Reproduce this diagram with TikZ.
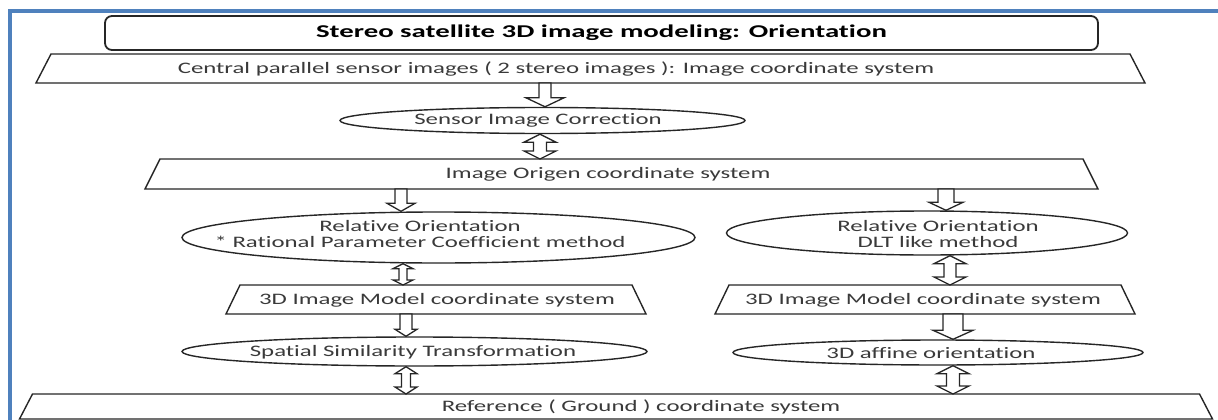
\documentclass[tikz,border=0pt]{standalone}
\usepackage{fontspec}
\setmainfont[FakeStretch=1.55, Ligatures={NoCommon}, BoldFeatures={FakeStretch=1.6}]{Carlito}
\usetikzlibrary{shapes.geometric,calc}
\definecolor{frameblue}{HTML}{4F81BD}
\definecolor{txtgray}{HTML}{3A3A3A}
% down block arrow: start, end, half shaft, half head, head length
\newcommand\dnarrow[5]{%
  \draw[blk] let \p1=(#1), \p2=(#2) in
    ({\x1-#3pt},\y1) -- ({\x1+#3pt},\y1) -- ({\x1+#3pt},{\y2+#5pt}) -- ({\x1+#4pt},{\y2+#5pt})
    -- (\x1,\y2) -- ({\x1-#4pt},{\y2+#5pt}) -- ({\x1-#3pt},{\y2+#5pt}) -- cycle;}
% double block arrow: start, end, half shaft, half head, head length
\newcommand\dblarrow[5]{%
  \draw[blk] let \p1=(#1), \p2=(#2) in
    (\x1,\y1) -- ({\x1+#4pt},{\y1-#5pt}) -- ({\x1+#3pt},{\y1-#5pt}) -- ({\x1+#3pt},{\y2+#5pt})
    -- ({\x1+#4pt},{\y2+#5pt}) -- (\x1,\y2) -- ({\x1-#4pt},{\y2+#5pt}) -- ({\x1-#3pt},{\y2+#5pt})
    -- ({\x1-#3pt},{\y1-#5pt}) -- ({\x1-#4pt},{\y1-#5pt}) -- cycle;}
% trapezoid: name, center, bottom width, height, side offset
\newcommand\trapz[5]{%
  \node[minimum width=#3, minimum height=#4, inner sep=0pt, outer sep=0pt] (#1) at #2 {};
  \draw[shpline] (#1.south west) -- ([xshift=#5]#1.north west) -- ([xshift=-#5]#1.north east)
    -- (#1.south east) -- cycle;}
\begin{document}
\begin{tikzpicture}[x=1pt,y=-1pt,
  shpline/.style={draw=black!85, line width=1.4pt, fill=white, line join=miter},
  shp/.style={shpline, inner sep=0pt},
  ell/.style={shp, ellipse},
  lbl/.style={text=txtgray, font=\fontsize{16}{16.5}\selectfont, inner sep=0pt, align=center},
  blk/.style={draw=black!85, line width=1.3pt, fill=white, line join=miter}]
\useasboundingbox (0,0) rectangle (1218,420);
% frame
\draw[frameblue, line width=4pt] (9.5,425) -- (9.5,11) -- (1225,11);
% title
\node[shp, rectangle, rounded corners=7pt, line width=1.8pt, minimum width=993pt, minimum height=34pt,
      font=\fontsize{18}{19}\selectfont\bfseries, text=black] (title) at (601.5,33)
      {Stereo satellite 3D image modeling: Orientation};
% shapes
\trapz{T1}{(590.5,68.5)}{1109pt}{29pt}{15pt}
\node[ell, minimum width=405pt, minimum height=26pt] (E1) at (542.5,120.5) {};
\trapz{T2}{(621.5,174)}{953pt}{30pt}{15pt}
\node[ell, minimum width=513pt, minimum height=51pt] (E2L) at (438.5,237.5) {};
\node[ell, minimum width=401pt, minimum height=44pt] (E2R) at (927,233) {};
\trapz{T3L}{(436,299.5)}{420pt}{29pt}{14pt}
\trapz{T3R}{(925,299.5)}{420pt}{29pt}{14pt}
\node[ell, minimum width=465pt, minimum height=29pt] (E3L) at (414.5,351.5) {};
\node[ell, minimum width=410pt, minimum height=25pt] (E3R) at (938,352.5) {};
\trapz{T4}{(616,406.5)}{1193pt}{25pt}{13pt}
% texts
\node[lbl] (t1) at (556,69) {Central parallel sensor images ( 2 stereo images ): Image coordinate system};
\node[lbl] (e1) at (538,120.5) {Sensor Image Correction};
\node[lbl] (t2) at (608,174) {Image Origen coordinate system};
\node[lbl] (e2l) at (420,234) {Relative Orientation\\* Rational Parameter Coefficient method};
\node[lbl] (e2r) at (938,234) {Relative Orientation\\DLT like method};
\node[lbl] (t3l) at (437,300) {3D Image Model coordinate system};
\node[lbl] (t3r) at (923,300) {3D Image Model coordinate system};
\node[lbl] (e3l) at (413,352) {Spatial Similarity Transformation};
\node[lbl] (e3r) at (931,353) {3D affine orientation};
\node[lbl] (t4) at (641,407) {Reference ( Ground ) coordinate system};
% arrow x positions
\coordinate (xA1) at (545,0);
\coordinate (xA2) at (540,0);
\coordinate (xA3) at (401,0);
\coordinate (xA4) at (946,0);
\coordinate (xA5) at (403,0);
\coordinate (xA6) at (950,0);
\coordinate (xA7) at (406,0);
\coordinate (xA8) at (953,0);
\coordinate (xA9) at (406,0);
\coordinate (xA10) at (953,0);
% connectors
\dnarrow{T1.south -| xA1}{E1.north -| xA1}{6}{19}{9}
\dblarrow{E1.south -| xA2}{T2.north -| xA2}{6.5}{16}{8}
\dnarrow{T2.south -| xA3}{E2L.north -| xA3}{6}{14}{8}
\dnarrow{T2.south -| xA4}{E2R.north -| xA4}{8}{17}{8}
\dblarrow{E2L.south -| xA5}{T3L.north -| xA5}{4}{10}{5}
\dblarrow{E2R.south -| xA6}{T3R.north -| xA6}{6}{16}{8}
\dnarrow{T3L.south -| xA7}{E3L.north -| xA7}{6}{11}{7}
\dnarrow{T3R.south -| xA8}{E3R.north -| xA8}{10}{20}{9}
\dblarrow{E3L.south -| xA9}{T4.north -| xA9}{4.5}{11}{7}
\dblarrow{E3R.south -| xA10}{T4.north -| xA10}{6.5}{16}{8}
\end{tikzpicture}
\end{document}
